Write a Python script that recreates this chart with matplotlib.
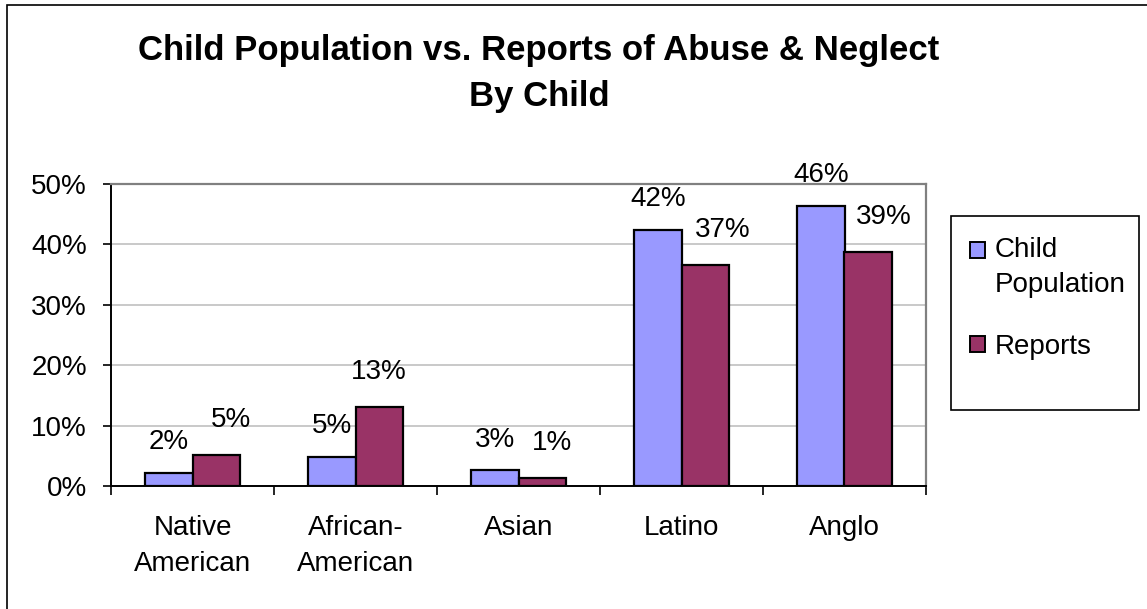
import matplotlib.pyplot as plt
import numpy as np
from matplotlib.patches import Rectangle
from matplotlib.container import BarContainer
from matplotlib.legend_handler import HandlerPatch, update_from_first_child

plt.rcParams['font.family'] = ['Liberation Sans', 'DejaVu Sans']

categories = ["Native\nAmerican", "African-\nAmerican", "Asian", "Latino", "Anglo"]
child_population = [2.2, 4.8, 2.6, 42.4, 46.4]
reports = [5.1, 13.1, 1.4, 36.6, 38.8]
series_names = ["Child\nPopulation", "Reports"]

blue = "#9999ff"
plum = "#993366"
fs = 20

W, H = 1147, 609
fig = plt.figure(figsize=(W / 100, H / 100), dpi=100)

# outer chart frame (runs off the right and bottom edges)
fig.patches.append(Rectangle((7 / W, -0.05), 1.2, 1 - 5 / H + 0.05,
                             transform=fig.transFigure, fill=False,
                             edgecolor="black", linewidth=1.2))

ax = fig.add_axes([111 / W, 1 - 486 / H, (926 - 111) / W, (486 - 184) / H])

x = np.arange(len(categories))
bw = 0.29
b1 = ax.bar(x - bw / 2, child_population, bw, color=blue, edgecolor="black",
            linewidth=1.6, label=series_names[0], zorder=3)
b2 = ax.bar(x + bw / 2, reports, bw, color=plum, edgecolor="black",
            linewidth=1.6, label=series_names[1], zorder=3)

# value labels above the bars
red_dx = [11, 0, 7, 13, 11]
for rect, v in zip(b1, child_population):
    ax.annotate(f"{v:.0f}%", (rect.get_x() + rect.get_width() / 2, v),
                xytext=(0, 22), textcoords="offset points",
                ha="center", va="center", fontsize=fs, clip_on=False)
for rect, v, dx in zip(b2, reports, red_dx):
    ax.annotate(f"{v:.0f}%", (rect.get_x() + rect.get_width() / 2, v),
                xytext=(dx, 25), textcoords="offset points",
                ha="center", va="center", fontsize=fs, clip_on=False)

ax.set_xlim(-0.5, len(categories) - 0.5)
ax.set_ylim(0, 50)
ax.set_yticks(np.arange(0, 51, 10))
ax.set_yticklabels([f"{t}%" for t in range(0, 51, 10)], fontsize=fs)
ax.yaxis.grid(True, color="#c0c0c0", linewidth=1.2, zorder=0)

ax.set_xticks(x)
ax.set_xticklabels(categories, fontsize=fs, linespacing=1.5)
ax.set_xticks(np.arange(-0.5, len(categories)), minor=True)
ax.tick_params(axis="x", which="major", length=0, pad=21)
ax.tick_params(axis="x", which="minor", length=6.5, width=1.2, direction="out")
ax.tick_params(axis="y", length=5.8, width=1.2, pad=11.5)

for side in ("top", "right"):
    ax.spines[side].set_color("#808080")
    ax.spines[side].set_linewidth(1.6)
for side in ("left", "bottom"):
    ax.spines[side].set_color("black")
    ax.spines[side].set_linewidth(1.4)


# legend swatch sits beside the first line of a two-line label
def top_square(legend, orig_handle, xdescent, ydescent, width, height, fontsize):
    shift = 12.6 if "\n" in orig_handle.get_label() else 0
    return Rectangle((-xdescent, -ydescent + shift), width, height)


leg = fig.legend(loc="upper left", bbox_to_anchor=(951 / W, 1 - 218 / H),
                 fontsize=fs, frameon=False, handlelength=0.54,
                 handleheight=0.54, handletextpad=0.36, borderpad=0.68,
                 labelspacing=1.3, borderaxespad=0,
                 handler_map={BarContainer: HandlerPatch(
                     patch_func=top_square, update_func=update_from_first_child)})
for t in leg.get_texts():
    t.set_linespacing(1.45)
for p in leg.legend_handles:
    p.set_linewidth(1.4)
fig.patches.append(Rectangle((951 / W, 1 - 410 / H), (1139 - 951) / W,
                             (410 - 216) / H, transform=fig.transFigure,
                             fill=False, edgecolor="black", linewidth=1.2))

fig.text(539 / W, 1 - 73.5 / H,
         "Child Population vs. Reports of Abuse & Neglect\nBy Child",
         ha="center", va="center", fontsize=25, fontweight="bold",
         linespacing=1.5)

fig.savefig("out.png", dpi=100)
